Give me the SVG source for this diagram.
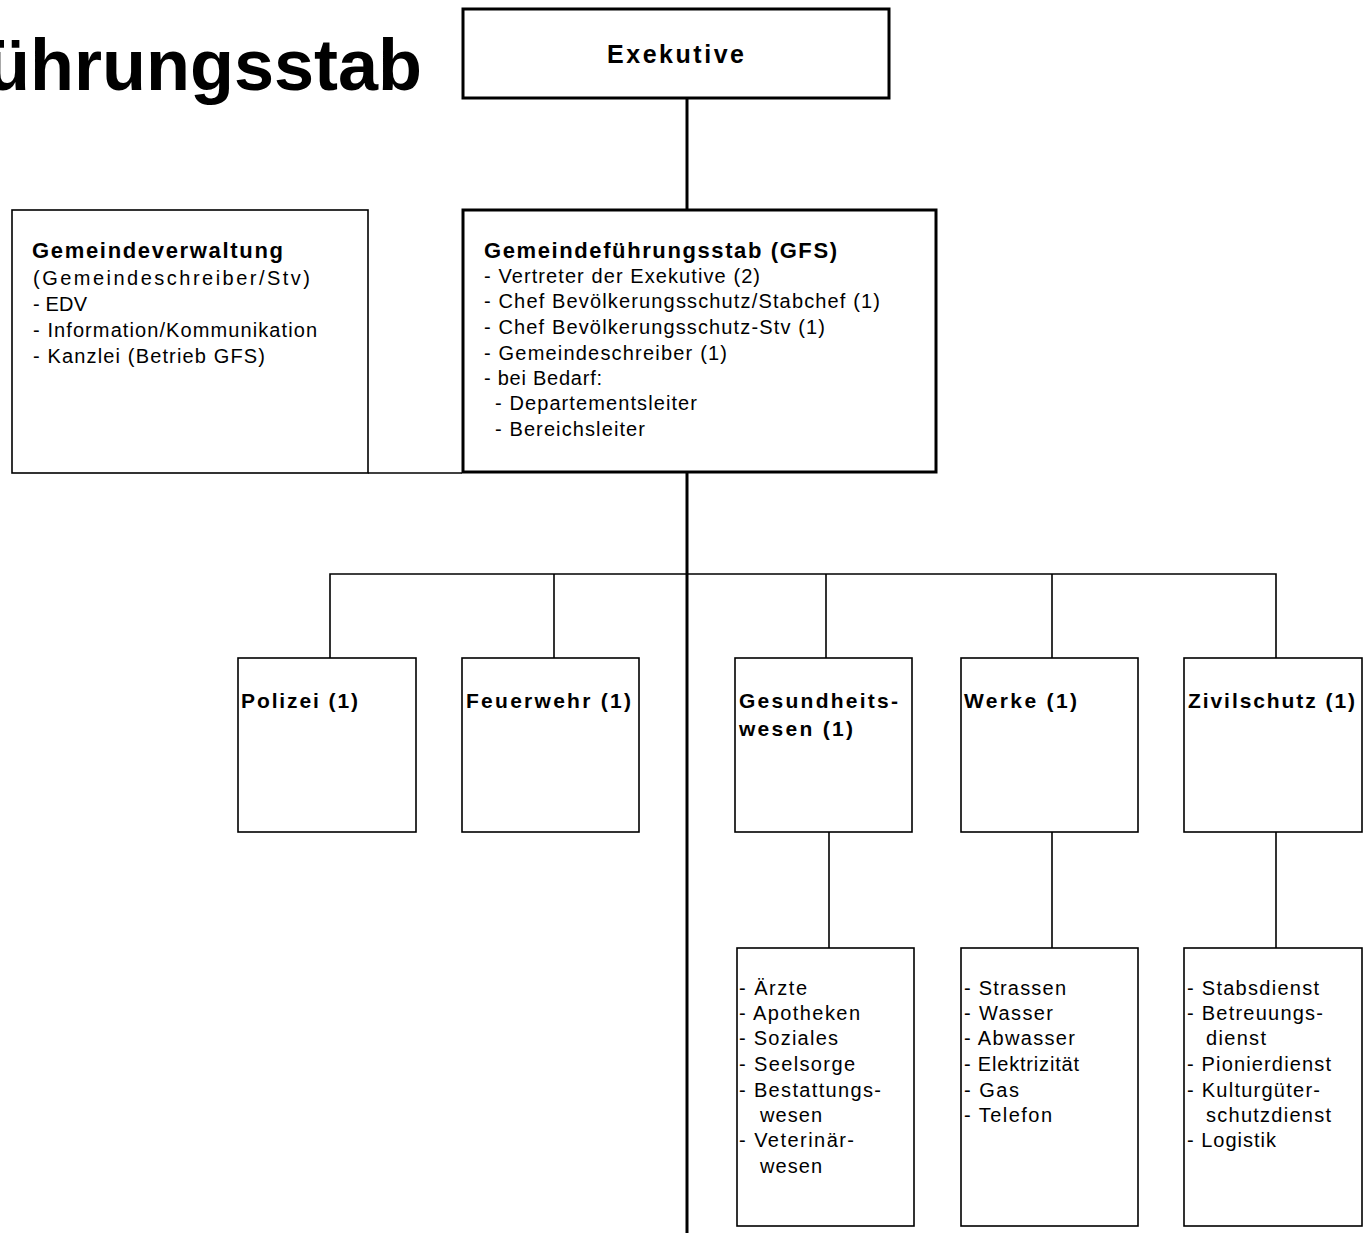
<svg xmlns="http://www.w3.org/2000/svg" width="1365" height="1233" viewBox="0 0 1365 1233">
<style>
  .box { fill: #fff; stroke: #000; stroke-width: 1.6; }
  .boxb { fill: #fff; stroke: #000; stroke-width: 3; }
  .ln { stroke: #000; stroke-width: 1.6; fill: none; }
  .lnb { stroke: #000; stroke-width: 3; fill: none; }
  text { font-family: "Liberation Sans", Arial, sans-serif; fill: #000; }
  .t { font-size: 20px; }
  .b { font-size: 21px; font-weight: bold; }
  .h { font-size: 22px; font-weight: bold; }
  .ex { font-size: 25px; font-weight: bold; }
  .title { font-size: 72px; font-weight: bold; }
</style>
<rect width="1365" height="1233" fill="#fff"/>
<text class="title" x="422" y="90" text-anchor="end">ührungsstab</text>

<g id="connectors">
  <line class="lnb" x1="687" y1="98" x2="687" y2="210"/>
  <line class="lnb" x1="687" y1="472" x2="687" y2="1233"/>
  <line class="ln" x1="368" y1="473" x2="462" y2="473"/>
  <polyline class="ln" points="330,658 330,574 1276,574 1276,658"/>
  <line class="ln" x1="554" y1="574" x2="554" y2="658"/>
  <line class="ln" x1="826" y1="574" x2="826" y2="658"/>
  <line class="ln" x1="1052" y1="574" x2="1052" y2="658"/>
  <line class="ln" x1="829" y1="832" x2="829" y2="948"/>
  <line class="ln" x1="1052" y1="832" x2="1052" y2="948"/>
  <line class="ln" x1="1276" y1="832" x2="1276" y2="948"/>
</g>

<g id="exekutive">
  <rect class="boxb" x="463" y="9" width="426" height="89"/>
  <text class="ex" x="607" y="63" textLength="137" lengthAdjust="spacing">Exekutive</text>
</g>

<g id="gemeindeverwaltung">
  <rect class="box" x="12" y="210" width="356" height="263"/>
  <text class="h" x="32" y="258" textLength="251" lengthAdjust="spacing">Gemeindeverwaltung</text>
  <text class="t" x="33" y="285" textLength="277" lengthAdjust="spacing">(Gemeindeschreiber/Stv)</text>
  <text class="t" x="33" y="311" textLength="54" lengthAdjust="spacing">- EDV</text>
  <text class="t" x="33" y="337" textLength="284" lengthAdjust="spacing">- Information/Kommunikation</text>
  <text class="t" x="33" y="363" textLength="232" lengthAdjust="spacing">- Kanzlei (Betrieb GFS)</text>
</g>

<g id="gfs">
  <rect class="boxb" x="463" y="210" width="473" height="262"/>
  <text class="h" x="484" y="258" textLength="353" lengthAdjust="spacing">Gemeindeführungsstab (GFS)</text>
  <text class="t" x="484" y="283" textLength="276" lengthAdjust="spacing">- Vertreter der Exekutive (2)</text>
  <text class="t" x="484" y="308" textLength="396" lengthAdjust="spacing">- Chef Bevölkerungsschutz/Stabchef (1)</text>
  <text class="t" x="484" y="334" textLength="341" lengthAdjust="spacing">- Chef Bevölkerungsschutz-Stv (1)</text>
  <text class="t" x="484" y="360" textLength="243" lengthAdjust="spacing">- Gemeindeschreiber (1)</text>
  <text class="t" x="484" y="385" textLength="118" lengthAdjust="spacing">- bei Bedarf:</text>
  <text class="t" x="495" y="410" textLength="202" lengthAdjust="spacing">- Departementsleiter</text>
  <text class="t" x="495" y="436" textLength="150" lengthAdjust="spacing">- Bereichsleiter</text>
</g>

<g id="polizei">
  <rect class="box" x="238" y="658" width="178" height="174"/>
  <text class="b" x="241" y="708" textLength="117" lengthAdjust="spacing">Polizei (1)</text>
</g>

<g id="feuerwehr">
  <rect class="box" x="462" y="658" width="177" height="174"/>
  <text class="b" x="466" y="708" textLength="165" lengthAdjust="spacing">Feuerwehr (1)</text>
</g>

<g id="gesundheitswesen">
  <rect class="box" x="735" y="658" width="177" height="174"/>
  <text class="b" x="739" y="708" textLength="159" lengthAdjust="spacing">Gesundheits-</text>
  <text class="b" x="739" y="736" textLength="114" lengthAdjust="spacing">wesen (1)</text>
</g>

<g id="werke">
  <rect class="box" x="961" y="658" width="177" height="174"/>
  <text class="b" x="964" y="708" textLength="113" lengthAdjust="spacing">Werke (1)</text>
</g>

<g id="zivilschutz">
  <rect class="box" x="1184" y="658" width="178" height="174"/>
  <text class="b" x="1188" y="708" textLength="167" lengthAdjust="spacing">Zivilschutz (1)</text>
</g>

<g id="gesundheit-details">
  <rect class="box" x="737" y="948" width="177" height="278"/>
  <text class="t" x="739" y="995" textLength="68" lengthAdjust="spacing">- Ärzte</text>
  <text class="t" x="739" y="1020" textLength="121" lengthAdjust="spacing">- Apotheken</text>
  <text class="t" x="739" y="1045" textLength="99" lengthAdjust="spacing">- Soziales</text>
  <text class="t" x="739" y="1071" textLength="116" lengthAdjust="spacing">- Seelsorge</text>
  <text class="t" x="739" y="1097" textLength="142" lengthAdjust="spacing">- Bestattungs-</text>
  <text class="t" x="760" y="1122" textLength="62" lengthAdjust="spacing">wesen</text>
  <text class="t" x="739" y="1147" textLength="115" lengthAdjust="spacing">- Veterinär-</text>
  <text class="t" x="760" y="1173" textLength="62" lengthAdjust="spacing">wesen</text>
</g>

<g id="werke-details">
  <rect class="box" x="961" y="948" width="177" height="278"/>
  <text class="t" x="964" y="995" textLength="102" lengthAdjust="spacing">- Strassen</text>
  <text class="t" x="964" y="1020" textLength="89" lengthAdjust="spacing">- Wasser</text>
  <text class="t" x="964" y="1045" textLength="111" lengthAdjust="spacing">- Abwasser</text>
  <text class="t" x="964" y="1071" textLength="115" lengthAdjust="spacing">- Elektrizität</text>
  <text class="t" x="964" y="1097" textLength="55" lengthAdjust="spacing">- Gas</text>
  <text class="t" x="964" y="1122" textLength="88" lengthAdjust="spacing">- Telefon</text>
</g>

<g id="zivilschutz-details">
  <rect class="box" x="1184" y="948" width="178" height="278"/>
  <text class="t" x="1187" y="995" textLength="132" lengthAdjust="spacing">- Stabsdienst</text>
  <text class="t" x="1187" y="1020" textLength="136" lengthAdjust="spacing">- Betreuungs-</text>
  <text class="t" x="1206" y="1045" textLength="60" lengthAdjust="spacing">dienst</text>
  <text class="t" x="1187" y="1071" textLength="144" lengthAdjust="spacing">- Pionierdienst</text>
  <text class="t" x="1187" y="1097" textLength="133" lengthAdjust="spacing">- Kulturgüter-</text>
  <text class="t" x="1206" y="1122" textLength="125" lengthAdjust="spacing">schutzdienst</text>
  <text class="t" x="1187" y="1147" textLength="89" lengthAdjust="spacing">- Logistik</text>
</g>
</svg>
